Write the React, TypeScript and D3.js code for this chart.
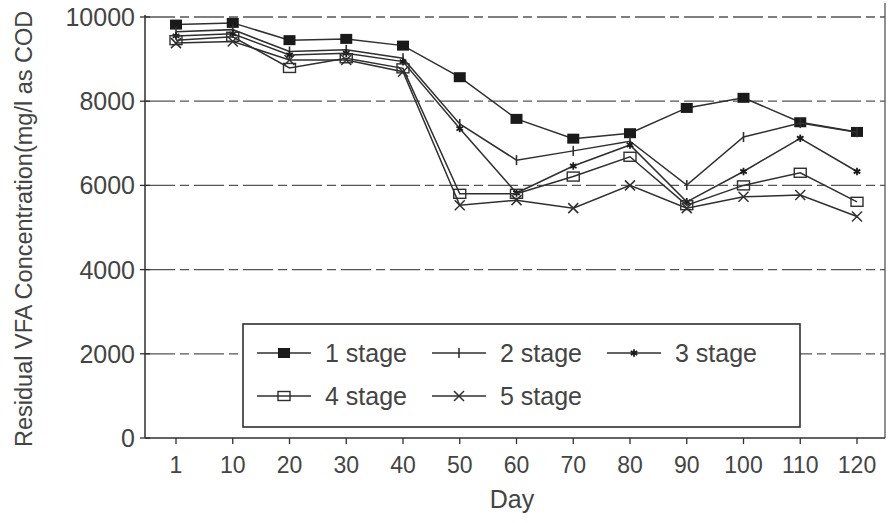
import React from "react";
import * as d3 from "d3";

const days = ["1", "10", "20", "30", "40", "50", "60", "70", "80", "90", "100", "110", "120"];
const stage1 = [9820, 9860, 9450, 9480, 9320, 8570, 7580, 7110, 7240, 7840, 8080, 7500, 7270];
const stage2 = [9650, 9700, 9180, 9220, 9020, 7460, 6600, 6820, 7050, 6010, 7150, 7480, 7260];
const stage3 = [9550, 9600, 9100, 9140, 8940, 7350, 5820, 6460, 6960, 5610, 6330, 7120, 6330];
const stage4 = [9450, 9530, 8790, 9020, 8780, 5800, 5800, 6210, 6680, 5530, 6000, 6300, 5610];
const stage5 = [9380, 9420, 8980, 8980, 8700, 5530, 5650, 5460, 6000, 5460, 5730, 5770, 5260];
const seriesNames = ["1 stage", "2 stage", "3 stage", "4 stage", "5 stage"];
const yTicks = [0, 2000, 4000, 6000, 8000, 10000];
const gridValues = [2000, 4000, 6000, 8000, 10000];

const INK = "#2f2f2f";
const TXT = "#444";

function Marker({ kind, cx, cy }: { kind: number; cx: number; cy: number }) {
  if (kind === 0) return <rect x={cx - 6} y={cy - 5} width={12} height={10} fill="#1a1a1a" />;
  if (kind === 1) return <line x1={cx} x2={cx} y1={cy - 5} y2={cy + 5} stroke={INK} strokeWidth={1.6} />;
  if (kind === 2) {
    const p = d3.symbol().type(d3.symbolAsterisk).size(40)();
    return <path d={p || ""} transform={`translate(${cx},${cy})`} fill="none" stroke="#1a1a1a" strokeWidth={1.8} />;
  }
  if (kind === 3) return <rect x={cx - 6} y={cy - 4.5} width={12} height={9} fill="none" stroke={INK} strokeWidth={1.4} />;
  return (
    <g stroke={INK} strokeWidth={1.5}>
      <line x1={cx - 5} x2={cx + 5} y1={cy - 5} y2={cy + 5} />
      <line x1={cx - 5} x2={cx + 5} y1={cy + 5} y2={cy - 5} />
    </g>
  );
}

export default function App() {
  const W = 889, H = 523;
  const left = 145, right = 885, top = 17, bottom = 438;
  const x = d3.scalePoint<string>().domain(days).range([176, 857]);
  const y = d3.scaleLinear().domain([0, 10000]).range([bottom, top]);
  const all = [stage1, stage2, stage3, stage4, stage5];
  const line = d3.line<number>().x((_, i) => x(days[i]) as number).y((v) => y(v));

  const legendItems = [
    { k: 0, lx: 257, ly: 353 },
    { k: 1, lx: 432, ly: 353 },
    { k: 2, lx: 607, ly: 353 },
    { k: 3, lx: 257, ly: 396 },
    { k: 4, lx: 432, ly: 396 },
  ];

  return (
    <svg width={W} height={H} style={{ position: "absolute", left: 0, top: 0, background: "#fff" }}
      fontFamily="'Liberation Sans', Arial, sans-serif">
      <rect x={0} y={0} width={W} height={H} fill="#fff" />
      {gridValues.map((g) => (
        <line key={g} x1={left} x2={right} y1={y(g)} y2={y(g)} stroke="#555" strokeWidth={1.3}
          strokeDasharray="30,5,9,5" />
      ))}
      <line x1={right} x2={right} y1={3} y2={bottom} stroke="#555" strokeWidth={1.3} />
      <line x1={left} x2={left} y1={top - 2} y2={bottom} stroke={INK} strokeWidth={1.5} />
      <line x1={left} x2={right} y1={bottom} y2={bottom} stroke={INK} strokeWidth={1.5} />
      {yTicks.map((t) => (
        <g key={t}>
          <line x1={left - 5} x2={left + 5} y1={y(t)} y2={y(t)} stroke={INK} strokeWidth={1.3} />
          <text x={135} y={y(t) + 9} textAnchor="end" fontSize={25} fill={TXT}>{t}</text>
        </g>
      ))}
      {days.map((d) => (
        <g key={d}>
          <line x1={x(d)} x2={x(d)} y1={bottom} y2={bottom + 6} stroke={INK} strokeWidth={1.3} />
          <text x={x(d)} y={473} textAnchor="middle" fontSize={23} fill={TXT}>{d}</text>
        </g>
      ))}
      <text x={512} y={508} textAnchor="middle" fontSize={25} fill={TXT}>Day</text>
      <text transform="translate(32,447) rotate(-90)" textAnchor="start" fontSize={23.5} fill={TXT}>
        Residual VFA Concentration(mg/l as COD
      </text>
      {all.map((s, k) => (
        <g key={k}>
          <path d={line(s) || ""} fill="none" stroke={INK} strokeWidth={1.5} />
          {s.map((v, i) => (
            <Marker key={i} kind={k} cx={x(days[i]) as number} cy={y(v)} />
          ))}
        </g>
      ))}
      <rect x={243} y={324} width={557} height={103} fill="#fff" stroke={INK} strokeWidth={1.6} />
      {legendItems.map((it) => (
        <g key={it.k}>
          <line x1={it.lx} x2={it.lx + 54} y1={it.ly} y2={it.ly} stroke={INK} strokeWidth={1.5} />
          <Marker kind={it.k} cx={it.lx + 27} cy={it.ly} />
          <text x={it.lx + 68} y={it.ly + 9} fontSize={25} fill={TXT}>{seriesNames[it.k]}</text>
        </g>
      ))}
    </svg>
  );
}
